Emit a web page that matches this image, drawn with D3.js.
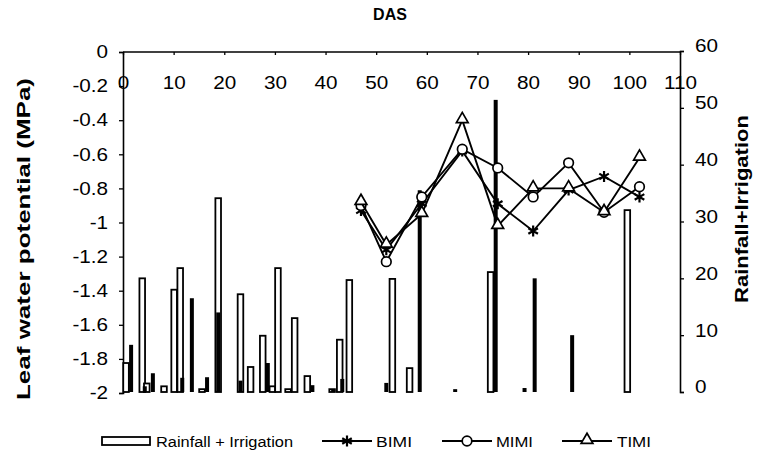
<!DOCTYPE html>
<html>
<head>
<meta charset="utf-8">
<script src="https://cdn.jsdelivr.net/npm/d3@7"></script>
<style>
  body { margin: 0; background: #fff; }
  svg { font-family: "Liberation Sans", Arial, sans-serif; }
</style>
</head>
<body>
<div id="chart"></div>
<script>
// Rainfall + Irrigation (hollow bars), mm
var rainDAS = [0.6, 3.8, 4.7, 8.1, 10.1, 11.3, 15.6, 18.8, 23.2, 25.2, 27.6, 29.5, 30.6, 32.6, 33.9, 36.4, 41.3, 42.8, 44.7, 53.2, 56.6, 72.6, 99.6];
var rainVal = [5.1, 20, 1.5, 1, 18, 21.8, 0.5, 34.1, 17.2, 4.4, 9.9, 1, 21.8, 0.5, 13, 2.8, 0.5, 9.2, 19.7, 19.9, 4.2, 21.1, 32];
// filled bars
var irrDAS = [1.6, 4.3, 5.9, 11.7, 13.6, 16.6, 18.8, 23.2, 28.6, 37.4, 41.5, 43.3, 52, 58.6, 65.6, 73.6, 79.3, 81.3, 88.7];
var irrVal = [8.3, 1, 3.3, 2.5, 16.5, 2.6, 14, 2, 5.1, 1.2, 0.5, 2.3, 1.6, 35.5, 0.5, 51.4, 0.7, 20, 10];

// leaf water potential (MPa)
var lwpDAS = [47, 52, 59, 67, 74, 81, 88, 95, 102];
var bimi = [-0.93, -1.16, -0.89, -0.58, -0.89, -1.05, -0.81, -0.73, -0.85];
var mimi = [-0.9, -1.23, -0.85, -0.57, -0.68, -0.85, -0.65, -0.94, -0.79];
var timi = [-0.88, -1.13, -0.95, -0.4, -1.02, -0.8, -0.8, -0.94, -0.62];

var dasTicks = [0, 10, 20, 30, 40, 50, 60, 70, 80, 90, 100, 110];
var lwpTicks = [0, -0.2, -0.4, -0.6, -0.8, -1, -1.2, -1.4, -1.6, -1.8, -2];
var rainTicks = [0, 10, 20, 30, 40, 50, 60];

var width = 762, height = 458;

var svg = d3.select("#chart").append("svg")
    .attr("width", width)
    .attr("height", height);

var x = d3.scaleLinear().domain([0, 110]).range([123, 680]);
var y = d3.scaleLinear().domain([-2, 0]).range([393, 52]);
var yR = d3.scaleLinear().domain([0, 60]).range([392, 51]);

// axes
var xAxis = d3.axisBottom(x).tickValues(dasTicks).tickSize(3).tickPadding(21);
var yAxis = d3.axisLeft(y).tickValues(lwpTicks).tickSize(4).tickPadding(9)
    .tickFormat(function (d) { return d === 0 ? "0" : String(+d.toFixed(1)); });
var yAxisR = d3.axisRight(yR).tickValues(rainTicks).tickSize(4).tickPadding(9);

function styleAxis(g) {
  g.select(".domain").attr("stroke", "#000").attr("stroke-width", 1.6);
  g.selectAll(".tick line").attr("stroke", "#000").attr("stroke-width", 1.3);
  g.selectAll(".tick text").attr("fill", "#000")
    .attr("transform", "scale(1.15,1)")
    .style("font-size", "18px").style("font-family", "Liberation Sans, Arial, sans-serif");
}

svg.append("g")
    .attr("class", "x axis")
    .attr("transform", "translate(0," + y(0) + ")")
    .call(xAxis)
    .call(styleAxis)
    .call(function (g) { g.select(".domain").attr("d", "M123,0H680"); });

svg.append("g")
    .attr("class", "y axis")
    .attr("transform", "translate(" + x(0) + ",0)")
    .call(yAxis)
    .call(styleAxis);

svg.append("g")
    .attr("class", "y2 axis")
    .attr("transform", "translate(" + x(110) + ",0)")
    .call(yAxisR)
    .call(styleAxis)
    .call(function (g) { g.selectAll(".tick text").attr("dy", "0.05em"); });

// bars
var rain = rainDAS.map(function (d, i) { return {das: d, v: rainVal[i]}; });
var irr = irrDAS.map(function (d, i) { return {das: d, v: irrVal[i]}; });

svg.selectAll(".rain")
    .data(rain)
  .enter().append("rect")
    .attr("class", "rain")
    .attr("x", function (d) { return x(d.das) - 2.8; })
    .attr("width", 5.6)
    .attr("y", function (d) { return yR(d.v); })
    .attr("height", function (d) { return yR(0) - yR(d.v); })
    .attr("fill", "#fff")
    .attr("stroke", "#000")
    .attr("stroke-width", 1.8);

svg.selectAll(".irr")
    .data(irr)
  .enter().append("rect")
    .attr("class", "irr")
    .attr("x", function (d) { return x(d.das) - 2; })
    .attr("width", 4)
    .attr("y", function (d) { return yR(d.v); })
    .attr("height", function (d) { return yR(0) - yR(d.v); })
    .attr("fill", "#000");

// lines
var line = d3.line()
    .x(function (d) { return x(d.das); })
    .y(function (d) { return y(d.v); });

var series = [
  {name: "BIMI", vals: bimi, sym: "star"},
  {name: "MIMI", vals: mimi, sym: "circle"},
  {name: "TIMI", vals: timi, sym: "triangle"}
];

var starPath = "M0,-5.5V5.5M-4.8,-2.8L4.8,2.8M-4.8,2.8L4.8,-2.8";
var triPath = d3.symbol().type(d3.symbolTriangle).size(60)();

function marker(g, sym) {
  if (sym === "star") {
    g.append("path").attr("d", starPath).attr("stroke", "#000").attr("stroke-width", 2.2).attr("fill", "none");
  } else if (sym === "circle") {
    g.append("circle").attr("r", 4.8).attr("fill", "#fff").attr("stroke", "#000").attr("stroke-width", 1.7);
  } else {
    g.append("path").attr("d", triPath).attr("fill", "#fff").attr("stroke", "#000").attr("stroke-width", 1.7)
      .attr("transform", "translate(0,-1)");
  }
}

series.forEach(function (s) {
  var pts = lwpDAS.map(function (d, i) { return {das: d, v: s.vals[i]}; });
  svg.append("path")
      .datum(pts)
      .attr("fill", "none")
      .attr("stroke", "#000")
      .attr("stroke-width", 1.9)
      .attr("d", line);
  svg.selectAll(".m-" + s.name)
      .data(pts)
    .enter().append("g")
      .attr("class", "m-" + s.name)
      .attr("transform", function (d) { return "translate(" + x(d.das) + "," + y(d.v) + ")"; })
      .each(function () { marker(d3.select(this), s.sym); });
});

// titles
svg.append("text")
    .attr("x", 390).attr("y", 20)
    .attr("text-anchor", "middle")
    .style("font-size", "16px").style("font-weight", "bold")
    .text("DAS");

svg.append("text")
    .attr("transform", "translate(30,239) rotate(-90)")
    .attr("text-anchor", "middle")
    .attr("textLength", 322).attr("lengthAdjust", "spacingAndGlyphs")
    .style("font-size", "19px").style("font-weight", "bold")
    .text("Leaf water potential (MPa)");

svg.append("text")
    .attr("transform", "translate(748,209) rotate(-90)")
    .attr("text-anchor", "middle")
    .attr("textLength", 188).attr("lengthAdjust", "spacingAndGlyphs")
    .style("font-size", "19px").style("font-weight", "bold")
    .text("Rainfall+Irrigation");

// legend
var leg = svg.append("g").attr("class", "legend");
leg.append("rect")
    .attr("x", 102).attr("y", 437).attr("width", 48).attr("height", 8)
    .attr("fill", "#fff").attr("stroke", "#000").attr("stroke-width", 1.8);
leg.append("text")
    .attr("x", 156).attr("y", 446.5)
    .attr("textLength", 137).attr("lengthAdjust", "spacingAndGlyphs")
    .style("font-size", "14px")
    .text("Rainfall + Irrigation");

var legItems = [
  {x0: 322, tx: 376, tl: 36, s: series[0]},
  {x0: 442, tx: 496, tl: 37, s: series[1]},
  {x0: 562, tx: 617, tl: 34, s: series[2]}
];
legItems.forEach(function (l) {
  leg.append("line")
      .attr("x1", l.x0).attr("x2", l.x0 + 50)
      .attr("y1", 441).attr("y2", 441)
      .attr("stroke", "#000").attr("stroke-width", 1.8);
  var m = leg.append("g").attr("transform", "translate(" + (l.x0 + 25) + ",441)");
  marker(m, l.s.sym);
  leg.append("text")
      .attr("x", l.tx).attr("y", 446.5)
      .attr("textLength", l.tl).attr("lengthAdjust", "spacingAndGlyphs")
      .style("font-size", "14px")
      .text(l.s.name);
});
</script>
</body>
</html>
